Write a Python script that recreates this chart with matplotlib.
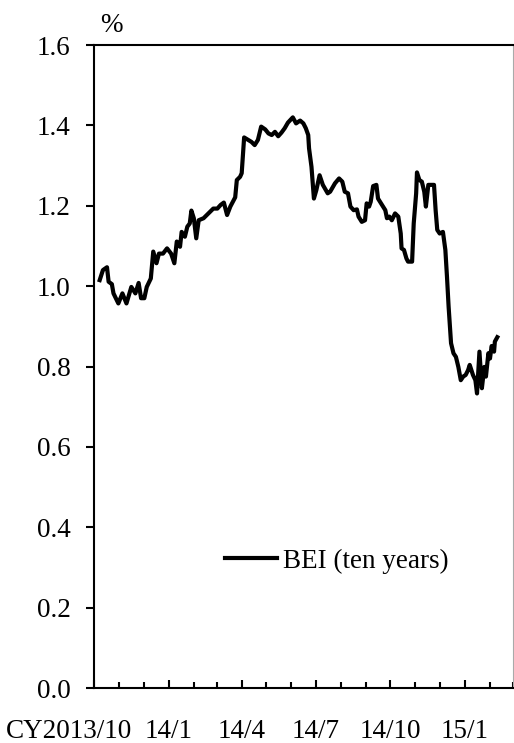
import pandas as pd
import matplotlib.pyplot as plt
import matplotlib.dates as mdates
from matplotlib.transforms import ScaledTranslation


# BEI (ten years)
dates = [
    '2013-10-08', '2013-10-12', '2013-10-17', '2013-10-19', '2013-10-23', '2013-10-25',
    '2013-10-31', '2013-11-05', '2013-11-10', '2013-11-16', '2013-11-21', '2013-11-25',
    '2013-11-28', '2013-12-02', '2013-12-05', '2013-12-10', '2013-12-13', '2013-12-17',
    '2013-12-20', '2013-12-25', '2013-12-30', '2014-01-04', '2014-01-08', '2014-01-11',
    '2014-01-15', '2014-01-17', '2014-01-21', '2014-01-24', '2014-01-27', '2014-01-29',
    '2014-02-01', '2014-02-04', '2014-02-07', '2014-02-13', '2014-02-19', '2014-02-25',
    '2014-03-02', '2014-03-06', '2014-03-10', '2014-03-14', '2014-03-18', '2014-03-24',
    '2014-03-26', '2014-03-30', '2014-04-01', '2014-04-04', '2014-04-09', '2014-04-13',
    '2014-04-17', '2014-04-21', '2014-04-25', '2014-04-30', '2014-05-04', '2014-05-08',
    '2014-05-12', '2014-05-16', '2014-05-20', '2014-05-24', '2014-05-28', '2014-06-03',
    '2014-06-07', '2014-06-12', '2014-06-16', '2014-06-19', '2014-06-22', '2014-06-23',
    '2014-06-26', '2014-06-29', '2014-07-02', '2014-07-06', '2014-07-10', '2014-07-16',
    '2014-07-19', '2014-07-25', '2014-07-30', '2014-08-03', '2014-08-06', '2014-08-10',
    '2014-08-13', '2014-08-17', '2014-08-21', '2014-08-23', '2014-08-27', '2014-08-31',
    '2014-09-02', '2014-09-05', '2014-09-07', '2014-09-10', '2014-09-14', '2014-09-16',
    '2014-09-21', '2014-09-25', '2014-09-27', '2014-09-30', '2014-10-03', '2014-10-07',
    '2014-10-11', '2014-10-14', '2014-10-15', '2014-10-18', '2014-10-21', '2014-10-23',
    '2014-10-28', '2014-10-30', '2014-11-02', '2014-11-03', '2014-11-06', '2014-11-09',
    '2014-11-12', '2014-11-14', '2014-11-17', '2014-11-24', '2014-11-26', '2014-11-28',
    '2014-12-01', '2014-12-05', '2014-12-08', '2014-12-10', '2014-12-12', '2014-12-15',
    '2014-12-18', '2014-12-21', '2014-12-24', '2014-12-27', '2014-12-30', '2015-01-02',
    '2015-01-05', '2015-01-07', '2015-01-11', '2015-01-14', '2015-01-16', '2015-01-19',
    '2015-01-22', '2015-01-25', '2015-01-27', '2015-01-30', '2015-02-01', '2015-02-03',
    '2015-02-06', '2015-02-07', '2015-02-10',
]
bei = [
    1.015, 1.040, 1.047, 1.011, 1.005, 0.982,
    0.957, 0.982, 0.957, 0.998, 0.982, 1.008,
    0.970, 0.970, 0.998, 1.019, 1.086, 1.057,
    1.081, 1.081, 1.094, 1.081, 1.057, 1.111,
    1.098, 1.135, 1.123, 1.148, 1.156, 1.188,
    1.169, 1.119, 1.164, 1.169, 1.181, 1.193,
    1.193, 1.202, 1.208, 1.177, 1.198, 1.221,
    1.264, 1.272, 1.281, 1.370, 1.364, 1.359,
    1.351, 1.364, 1.397, 1.390, 1.380, 1.376,
    1.384, 1.373, 1.382, 1.393, 1.407, 1.420,
    1.405, 1.412, 1.405, 1.393, 1.376, 1.343,
    1.297, 1.218, 1.239, 1.276, 1.252, 1.231,
    1.235, 1.256, 1.268, 1.260, 1.235, 1.231,
    1.198, 1.189, 1.191, 1.173, 1.160, 1.164,
    1.206, 1.198, 1.210, 1.249, 1.252, 1.218,
    1.202, 1.189, 1.169, 1.173, 1.164, 1.181,
    1.173, 1.131, 1.094, 1.090, 1.069, 1.061,
    1.061, 1.156, 1.231, 1.283, 1.264, 1.260,
    1.235, 1.198, 1.252, 1.252, 1.189, 1.140,
    1.131, 1.135, 1.090, 1.023, 0.949, 0.858,
    0.833, 0.824, 0.799, 0.766, 0.775, 0.779,
    0.791, 0.804, 0.779, 0.766, 0.733, 0.837,
    0.746, 0.799, 0.775, 0.833, 0.820, 0.851,
    0.837, 0.862, 0.873,
]

x_start = '2013-10-01'
x_end = '2015-03-01'
quarter_ticks = ['2013-10-01', '2014-01-01', '2014-04-01', '2014-07-01', '2014-10-01', '2015-01-01']
quarter_labels = ['CY2013/10', '14/1', '14/4', '14/7', '14/10', '15/1']
y_ticks = [0.0, 0.2, 0.4, 0.6, 0.8, 1.0, 1.2, 1.4, 1.6]

plt.rcParams['font.family'] = ['Liberation Serif', 'DejaVu Serif']
fs = 19.5

fig = plt.figure(figsize=(5.14, 7.43), dpi=100)
ax = fig.add_axes([0.1829, 0.074, 0.8146, 0.8654])

ax.plot(pd.to_datetime(dates), bei, color='black', linewidth=3.0,
        solid_joinstyle='round', label='BEI (ten years)')

# axis ranges
ax.set_xlim(pd.Timestamp(x_start), pd.Timestamp(x_end))
ax.set_ylim(0, 1.6)

# y axis
ax.set_yticks(y_ticks)
ax.set_yticklabels([f'{v:.1f}' for v in y_ticks], fontsize=fs)
ax.tick_params(axis='y', direction='out', length=6, width=1.5, pad=11)

# x axis: quarter labels, month minor ticks
ax.set_xticks(pd.to_datetime(quarter_ticks))
ax.set_xticklabels(quarter_labels, fontsize=fs)
ax.xaxis.set_minor_locator(mdates.MonthLocator())
ax.tick_params(axis='x', which='major', direction='in', length=6, width=1.5, pad=22)
ax.tick_params(axis='x', which='minor', direction='in', length=4, width=1.5)

# first label sits left of the axis
first = ax.get_xticklabels()[0]
first.set_transform(first.get_transform() + ScaledTranslation(-25 / 100, 0, fig.dpi_scale_trans))

for side in ['left', 'bottom', 'top']:
    ax.spines[side].set_linewidth(1.5)
ax.spines['right'].set_color('#aaaaaa')
ax.spines['right'].set_linewidth(0.8)

# unit
fig.text(111 / 514, 1 - 25 / 743, '%', fontsize=fs, ha='center', va='center')

# legend
ax.legend(loc='center left', bbox_to_anchor=(0.313, 0.1975), frameon=False,
          fontsize=fs, handlelength=1.9, handletextpad=0.25,
          borderpad=0, borderaxespad=0)

plt.savefig('out.png', dpi=100)
plt.close('all')
